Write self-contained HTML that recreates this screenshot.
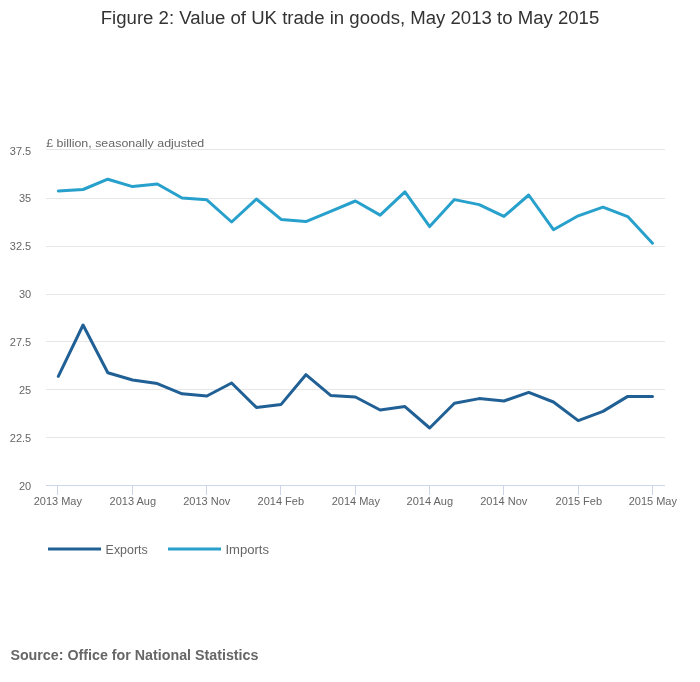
<!DOCTYPE html>
<html><head><meta charset="utf-8"><title>Figure 2</title>
<style>
html,body{margin:0;padding:0;background:#fff;}
body{width:700px;height:682px;overflow:hidden;}
svg{display:block;}
text{font-family:"Liberation Sans",sans-serif;}
.t{filter:grayscale(1);}
</style></head><body>
<svg width="700" height="682" viewBox="0 0 700 682">
<rect x="0" y="0" width="700" height="682" fill="#ffffff"/>
<rect x="46" y="149" width="619" height="1" fill="#e6e6e6"/>
<rect x="46" y="198" width="619" height="1" fill="#e6e6e6"/>
<rect x="46" y="246" width="619" height="1" fill="#e6e6e6"/>
<rect x="46" y="294" width="619" height="1" fill="#e6e6e6"/>
<rect x="46" y="341" width="619" height="1" fill="#e6e6e6"/>
<rect x="46" y="389" width="619" height="1" fill="#e6e6e6"/>
<rect x="46" y="437" width="619" height="1" fill="#e6e6e6"/>
<rect x="46" y="485" width="619" height="1" fill="#ccd6eb"/>
<rect x="57" y="485" width="1" height="10" fill="#ccd6eb"/>
<rect x="132" y="485" width="1" height="10" fill="#ccd6eb"/>
<rect x="206" y="485" width="1" height="10" fill="#ccd6eb"/>
<rect x="280" y="485" width="1" height="10" fill="#ccd6eb"/>
<rect x="355" y="485" width="1" height="10" fill="#ccd6eb"/>
<rect x="429" y="485" width="1" height="10" fill="#ccd6eb"/>
<rect x="503" y="485" width="1" height="10" fill="#ccd6eb"/>
<rect x="578" y="485" width="1" height="10" fill="#ccd6eb"/>
<rect x="652" y="485" width="1" height="10" fill="#ccd6eb"/>
<path d="M58.30 191.00 L83.06 189.50 L107.82 179.20 L132.57 186.60 L157.33 184.00 L182.09 198.00 L206.85 199.80 L231.61 222.00 L256.37 199.00 L281.12 219.40 L305.88 221.60 L330.64 211.40 L355.40 201.00 L380.16 215.10 L404.92 191.80 L429.68 226.60 L454.43 199.60 L479.19 204.60 L503.95 216.40 L528.71 195.00 L553.47 229.70 L578.23 215.80 L602.98 207.20 L627.74 216.60 L652.50 243.20" fill="none" stroke="#27a0cc" stroke-width="3" stroke-linejoin="round" stroke-linecap="round"/>
<path d="M58.30 376.30 L83.06 325.00 L107.82 372.80 L132.57 380.00 L157.33 383.60 L182.09 393.80 L206.85 396.00 L231.61 383.00 L256.37 407.40 L281.12 404.40 L305.88 374.70 L330.64 395.40 L355.40 397.00 L380.16 410.00 L404.92 406.60 L429.68 428.00 L454.43 403.20 L479.19 398.60 L503.95 401.00 L528.71 392.40 L553.47 402.00 L578.23 420.60 L602.98 411.40 L627.74 396.40 L652.50 396.40" fill="none" stroke="#206095" stroke-width="3" stroke-linejoin="round" stroke-linecap="round"/>
<rect x="48" y="547.5" width="53" height="3" fill="#206095"/>
<rect x="168" y="547.5" width="53" height="3" fill="#27a0cc"/>
<g class="t">
<text x="350" y="23.6" text-anchor="middle" font-size="18" fill="#333333" textLength="498.5" lengthAdjust="spacingAndGlyphs">Figure 2: Value of UK trade in goods, May 2013 to May 2015</text>
<text x="46.2" y="146.8" font-size="11.5" fill="#666666" textLength="158" lengthAdjust="spacingAndGlyphs">£ billion, seasonally adjusted</text>
<text x="31.2" y="155" text-anchor="end" font-size="11" fill="#666666">37.5</text>
<text x="31.2" y="202" text-anchor="end" font-size="11" fill="#666666">35</text>
<text x="31.2" y="250" text-anchor="end" font-size="11" fill="#666666">32.5</text>
<text x="31.2" y="298" text-anchor="end" font-size="11" fill="#666666">30</text>
<text x="31.2" y="346" text-anchor="end" font-size="11" fill="#666666">27.5</text>
<text x="31.2" y="394" text-anchor="end" font-size="11" fill="#666666">25</text>
<text x="31.2" y="442" text-anchor="end" font-size="11" fill="#666666">22.5</text>
<text x="31.2" y="490" text-anchor="end" font-size="11" fill="#666666">20</text>
<text x="57.8" y="504.7" text-anchor="middle" font-size="11" fill="#666666">2013 May</text>
<text x="132.8" y="504.7" text-anchor="middle" font-size="11" fill="#666666">2013 Aug</text>
<text x="206.8" y="504.7" text-anchor="middle" font-size="11" fill="#666666">2013 Nov</text>
<text x="280.8" y="504.7" text-anchor="middle" font-size="11" fill="#666666">2014 Feb</text>
<text x="355.8" y="504.7" text-anchor="middle" font-size="11" fill="#666666">2014 May</text>
<text x="429.8" y="504.7" text-anchor="middle" font-size="11" fill="#666666">2014 Aug</text>
<text x="503.8" y="504.7" text-anchor="middle" font-size="11" fill="#666666">2014 Nov</text>
<text x="578.8" y="504.7" text-anchor="middle" font-size="11" fill="#666666">2015 Feb</text>
<text x="652.8" y="504.7" text-anchor="middle" font-size="11" fill="#666666">2015 May</text>
<text x="105.6" y="554" font-size="12" fill="#666666" textLength="42.2" lengthAdjust="spacingAndGlyphs">Exports</text>
<text x="225.4" y="554" font-size="12" fill="#666666" textLength="43.6" lengthAdjust="spacingAndGlyphs">Imports</text>
<text x="10.4" y="659.5" font-size="14" font-weight="bold" fill="#666666" textLength="248" lengthAdjust="spacingAndGlyphs">Source: Office for National Statistics</text>
</g>
</svg>
</body></html>
